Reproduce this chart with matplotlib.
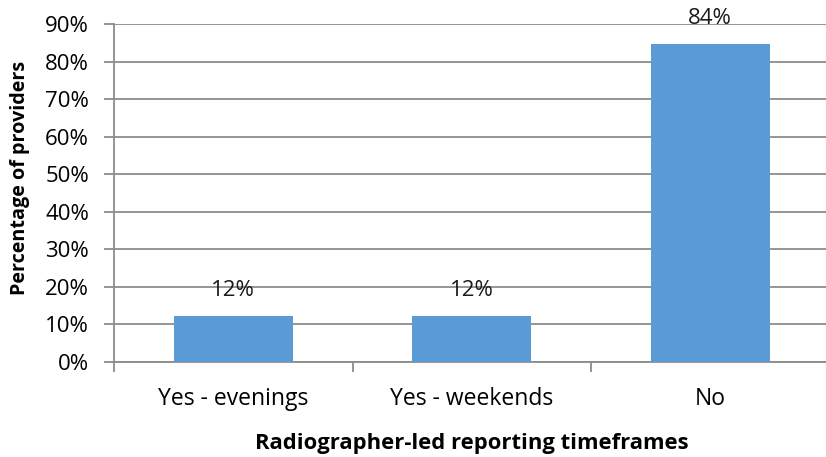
import matplotlib.pyplot as plt

# Data
categories = ['Yes - evenings', 'Yes - weekends', 'No']
shares = [12.2, 12.2, 84.6]
labels = ['12%', '12%', '84%']
yticks = [0, 10, 20, 30, 40, 50, 60, 70, 80, 90]

plt.rcParams['font.family'] = ['Open Sans', 'DejaVu Sans']

fig = plt.figure(figsize=(8.26, 4.57), dpi=100)
# plot area runs slightly past the right edge, as in the original
ax = fig.add_axes([114 / 826, 95 / 457, 715.5 / 826, 338 / 457])

grey = '#8c8c8c'
x = range(len(categories))
bars = ax.bar(x, shares, width=0.5, color='#5b9bd5', zorder=3)

for rect, lab in zip(bars, labels):
    ax.annotate(lab, (rect.get_x() + rect.get_width() / 2, rect.get_height()),
                xytext=(0, 14.4), textcoords='offset points',
                ha='center', va='baseline', fontsize=16, color='#1a1a1a')

ax.set_xlim(-0.5, 2.5)
ax.set_ylim(0, 90)
ax.set_yticks(yticks)
ax.set_yticklabels([f'{t}%' for t in yticks], fontsize=16)
ax.set_xticks(x)
ax.set_xticklabels(categories, fontsize=16.5)
ax.set_xticks([-0.5, 0.5, 1.5, 2.5], minor=True)

ax.yaxis.grid(True, color=grey, linewidth=1.3, zorder=0)
for side in ['top', 'right']:
    ax.spines[side].set_visible(False)
for side in ['left', 'bottom']:
    ax.spines[side].set_color(grey)
    ax.spines[side].set_linewidth(1.3)

ax.tick_params(axis='x', which='major', length=0, pad=18)
ax.tick_params(axis='x', which='minor', length=7, width=1.3, color=grey)
ax.tick_params(axis='y', length=7, width=1.3, color=grey, pad=11)

ax.set_xlabel('Radiographer-led reporting timeframes', fontsize=15.8,
              fontweight='bold', labelpad=16)
ax.set_ylabel('Percentage of providers', fontsize=14.2, fontweight='bold')
ax.yaxis.set_label_coords(-0.118, 0.544)

fig.savefig('out.png', dpi=100)
